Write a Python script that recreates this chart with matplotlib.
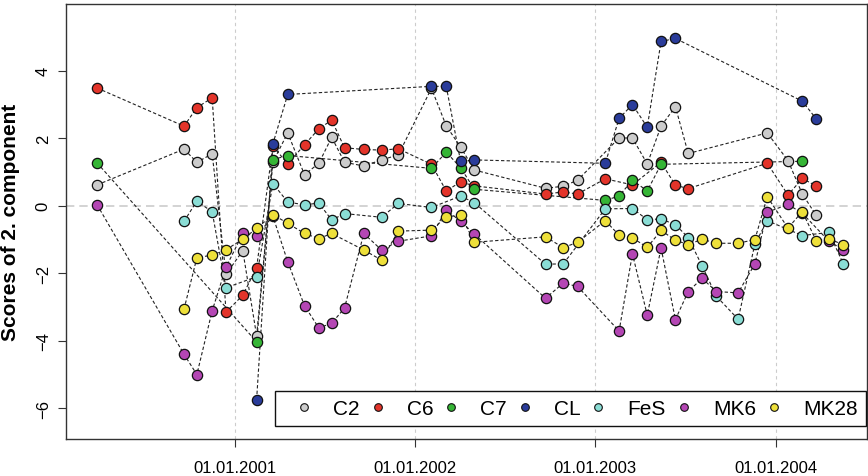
import matplotlib
matplotlib.use("Agg")
import matplotlib.pyplot as plt
import matplotlib.dates as mdates
from matplotlib.lines import Line2D
import numpy as np
import pandas as pd

plt.rcParams['font.family'] = ['Liberation Sans Narrow', 'Liberation Sans', 'DejaVu Sans']

# sampling dates (shared), None = no sample for that series
dates = ['2000-03-28', '2000-09-20', '2000-10-16', '2000-11-16', '2000-12-14',
         '2001-01-17', '2001-02-14', '2001-03-19', '2001-04-18', '2001-05-22',
         '2001-06-20', '2001-07-16', '2001-08-11', '2001-09-19', '2001-10-25',
         '2001-11-28', '2002-02-03', '2002-03-05', '2002-04-03', '2002-05-01',
         '2002-09-22', '2002-10-28', '2002-11-26', '2003-01-21', '2003-02-18',
         '2003-03-17', '2003-04-16', '2003-05-14', '2003-06-12', '2003-07-08',
         '2003-08-05', '2003-09-03', '2003-10-17', '2003-11-20', '2003-12-15',
         '2004-01-26', '2004-02-24', '2004-03-23', '2004-04-18', '2004-05-17']
N = None
c2 = [0.62, 1.68, 1.29, 1.54, -2.03, -1.33, -3.85, 1.30, 2.16, 0.92,
      1.26, 2.03, 1.29, 1.18, 1.36, 1.51, 3.48, 2.37, 1.74, 1.06,
      0.52, 0.58, 0.76, N, 2.01, 2.01, 1.24, 2.36, 2.94, 1.55,
      N, N, N, N, 2.16, 1.34, 0.35, -0.28, N, N]
c6 = [3.49, 2.36, 2.91, 3.20, -3.15, -2.65, -1.83, 1.77, 1.24, 1.81,
      2.28, 2.54, 1.72, 1.67, 1.65, 1.69, 1.23, 0.44, 0.71, 0.59,
      0.35, 0.41, 0.35, 0.80, N, 0.62, N, 1.29, 0.61, 0.51,
      N, N, N, N, 1.26, 0.32, 0.81, 0.59, N, N]
c7 = [1.27, N, N, N, N, N, -4.03, 1.37, 1.49, N,
      N, N, N, N, N, N, 1.11, 1.59, 1.13, 0.49,
      N, N, N, 0.16, 0.29, 0.76, 0.44, 1.23, N, N,
      N, N, N, N, N, N, 1.32, N, N, N]
cl = [N, N, N, N, N, N, -5.74, 1.84, 3.30, N,
      N, N, N, N, N, N, 3.54, 3.54, 1.32, 1.36,
      N, N, N, 1.26, 2.59, 3.00, 2.33, 4.87, 4.96, N,
      N, N, N, N, N, N, 3.10, 2.58, N, N]
fes = [N, -0.46, 0.14, -0.18, -2.43, N, -2.10, 0.66, 0.11, 0.03,
       0.08, -0.42, -0.23, N, -0.34, 0.07, -0.05, N, 0.29, 0.09,
       -1.73, -1.72, N, -0.09, N, -0.08, -0.41, -0.39, -0.56, -0.94,
       -1.78, -2.68, -3.36, -1.13, -0.44, N, -0.88, N, -0.79, -1.72]
mk6 = [0.03, -4.40, -5.00, -3.11, -1.82, -0.82, -0.89, -0.31, -1.66, -2.96,
       -3.62, -3.48, -3.03, -0.82, -1.31, -1.05, -0.89, -0.12, -0.46, -0.84,
       -2.74, -2.29, -2.39, N, -3.71, -1.42, -3.24, -1.25, -3.37, -2.54,
       -2.15, -2.54, -2.58, -1.72, -0.19, 0.04, -0.22, N, -1.05, -1.30]
mk28 = [N, -3.06, -1.54, -1.46, -1.30, -0.99, -0.67, -0.26, -0.52, -0.82,
        -0.97, -0.82, N, -1.31, -1.61, -0.75, -0.72, -0.33, -0.27, -1.08,
        -0.92, -1.24, -1.08, -0.44, -0.87, -0.95, -1.23, -0.73, -1.02, -1.15,
        -0.99, -1.11, -1.11, -1.00, 0.27, -0.66, -0.17, -1.03, -0.97, -1.16]

names = ['C2', 'C6', 'C7', 'CL', 'FeS', 'MK6', 'MK28']
series = [c2, c6, c7, cl, fes, mk6, mk28]
colors = ['#CCCCCC', '#E3342A', '#35B535', '#2A3C9A', '#8ADDD5', '#B446B4', '#EEE03A']

xs = pd.to_datetime(dates)

fig = plt.figure(figsize=(8.68, 4.77), dpi=100)
ax = fig.add_axes([66 / 868, 1 - 440 / 477, (867 - 66) / 868, (440 - 5) / 477])

# grid: vertical at year ticks, horizontal at zero
ticks = pd.to_datetime(['2001-01-01', '2002-01-01', '2003-01-01', '2004-01-01'])
for t in ticks:
    ax.axvline(t, color='#cccccc', lw=0.8, ls=(0, (3, 3)), zorder=0)
ax.axhline(0, color='#cccccc', lw=1.2, ls=(0, (5, 3)), zorder=0)

# dashed connecting lines first, then markers on top
for vals in series:
    v = np.array([np.nan if a is None else a for a in vals], dtype=float)
    m = ~np.isnan(v)
    ax.plot(xs[m], v[m], color='#222222', lw=0.8, ls=(0, (3, 2)), zorder=2)
for vals, col in zip(series, colors):
    v = np.array([np.nan if a is None else a for a in vals], dtype=float)
    m = ~np.isnan(v)
    ax.plot(xs[m], v[m], ls='none', marker='o', ms=7.4, mfc=col,
            mec='#111111', mew=0.9, zorder=3)

ax.set_xlim(pd.Timestamp('2000-01-25'), pd.Timestamp('2004-07-04'))
ax.set_ylim(-6.91, 5.98)
ax.set_xticks(ticks)
ax.xaxis.set_major_formatter(mdates.DateFormatter('%d.%m.%Y'))
ax.set_yticks([-6, -4, -2, 0, 2, 4])
ax.tick_params(axis='both', direction='out', length=6, width=0.8,
               labelsize=12, color='#333333')
ax.tick_params(axis='x', pad=9)
ax.tick_params(axis='y', pad=5)
for lab in ax.get_yticklabels():
    lab.set_rotation(90)
    lab.set_va('center')
for s in ax.spines.values():
    s.set_color('#333333')
    s.set_linewidth(1.0)

ax.set_ylabel('Scores of 2. component', fontsize=15, fontweight='bold', labelpad=11)

handles = [Line2D([], [], ls='none', marker='o', ms=5.5, mfc=c, mec='#111111', mew=0.8)
           for c in colors]
fig.legend(handles, names, loc='center', ncol=7, mode='expand',
           bbox_to_anchor=(275 / 868, 1 - 436 / 477, (866 - 275) / 868, (436 - 383) / 477),
           frameon=True, fancybox=False, edgecolor='#111111', fontsize=15,
           handletextpad=0.4, borderaxespad=0.0, framealpha=1)

fig.savefig('out.png', dpi=100)
